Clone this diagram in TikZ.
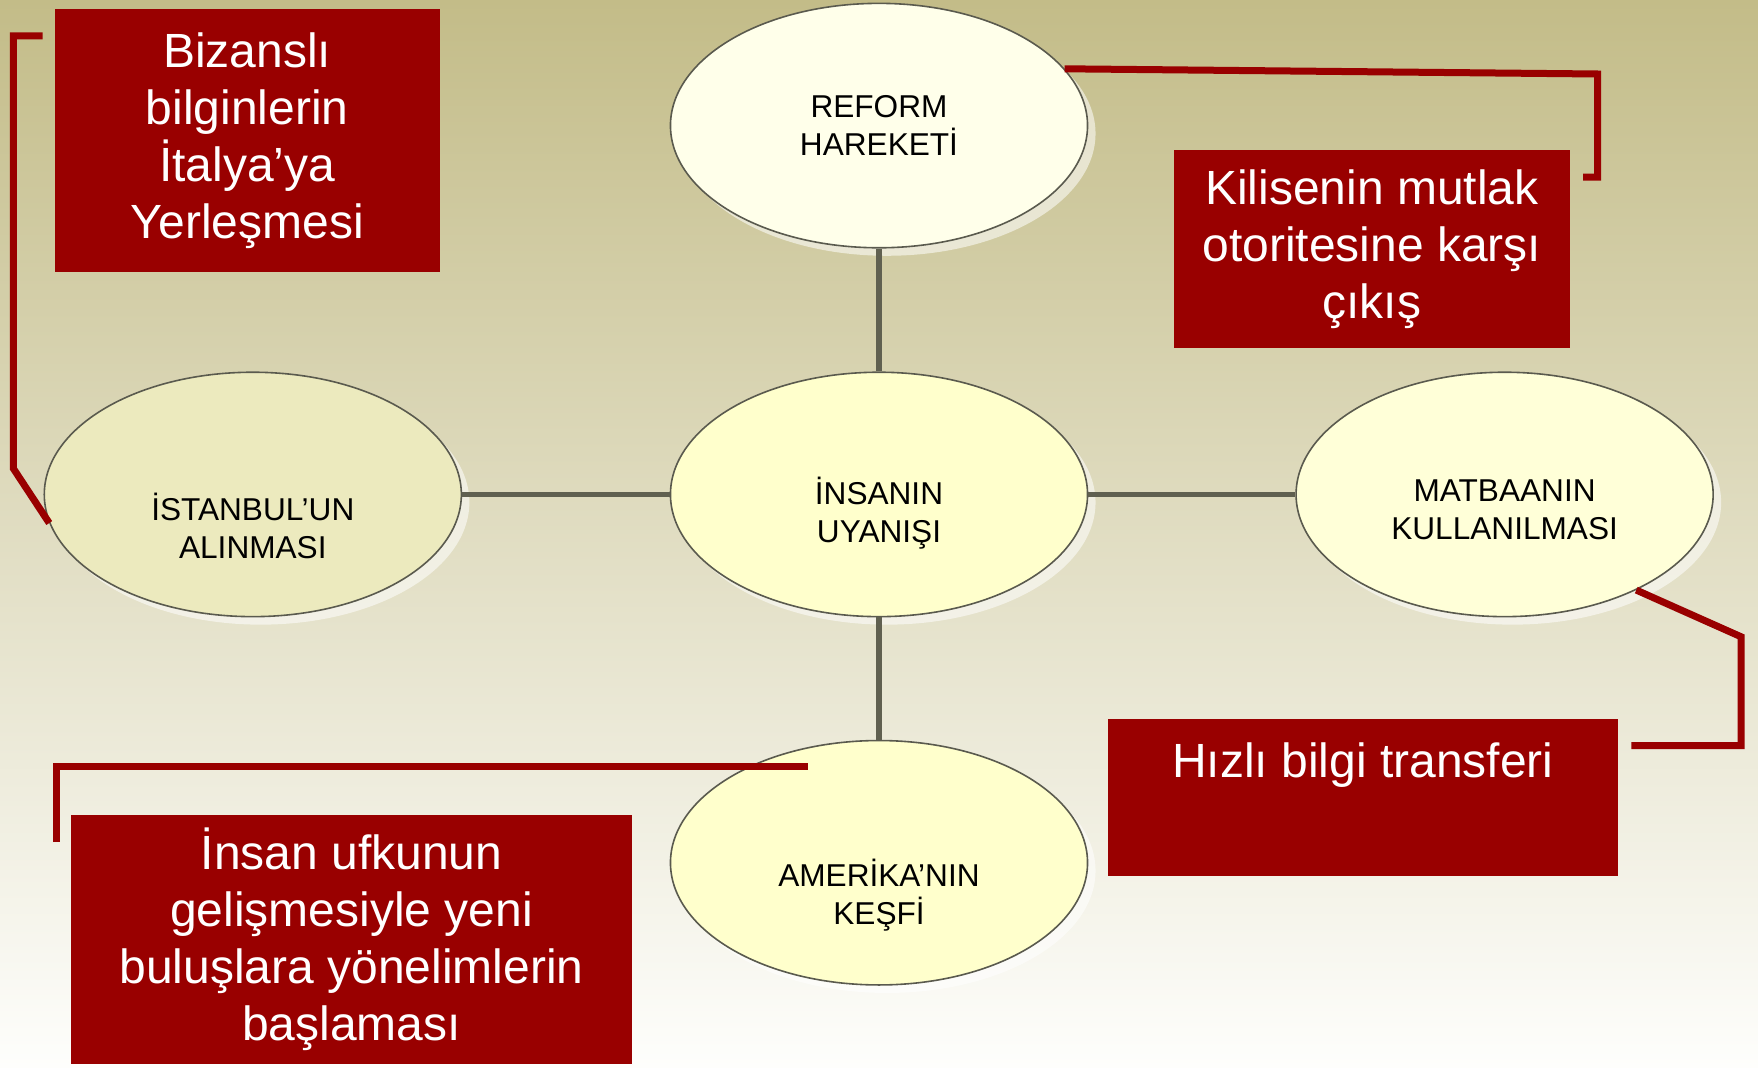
\documentclass[tikz,border=0pt]{standalone}
\usepackage{fontspec}
\setmainfont{Liberation Sans}
\usetikzlibrary{shapes.geometric,shadows,calc}
\definecolor{ren_red}{RGB}{153, 0, 0}
\definecolor{ren_line}{RGB}{96, 96, 80}
\definecolor{ren_edge}{RGB}{90, 90, 78}
\definecolor{ren_cream}{RGB}{255, 255, 204}
\definecolor{ren_pale}{RGB}{255, 255, 234}
\definecolor{ren_olive}{RGB}{236, 234, 190}
\definecolor{ren_light}{RGB}{255, 255, 216}
\definecolor{ren_top}{RGB}{195, 188, 136}
\definecolor{ren_bot}{RGB}{254, 254, 252}
\newcommand{\px}{0.5606pt}
\tikzstyle{bub}=[ellipse,draw=ren_edge,line width=0.8pt,inner sep=0pt,
  minimum width=372*\px,minimum height=218*\px,
  drop shadow={shadow xshift=4pt,shadow yshift=-4pt,fill=white,opacity=0.55}]
\tikzstyle{etxt}=[align=center,text=black,font=\fontsize{15.8}{19}\selectfont]
\tikzstyle{rbox}=[fill=ren_red,text=white,align=center,inner sep=0pt,
  font=\fontsize{24}{28.5}\selectfont]
\tikzstyle{link}=[draw=ren_line,line width=2.6pt]
\tikzstyle{brk}=[draw=ren_red,line width=3.5pt]
\tikzstyle{none}=[]

\begin{document}
\begin{tikzpicture}[x=\px,y=-\px]
    \useasboundingbox (0,0) rectangle (1568,952);
    \shade [top color=ren_top,bottom color=ren_bot] (0,0) rectangle (1568,952);

    % ellipses
    \node [style=bub,fill=ren_pale] (0) at (784,112) {};
    \node [style=bub,fill=ren_olive] (1) at (225.5,441) {};
    \node [style=bub,fill=ren_cream] (2) at (784,441) {};
    \node [style=bub,fill=ren_light] (3) at (1342,441) {};
    \node [style=bub,fill=ren_cream] (4) at (784,769.5) {};
    \draw [style=link] (2) to (0);
    \draw [style=link] (2) to (1);
    \draw [style=link] (2) to (3);
    \draw [style=link] (2) to (4);

    \node [style=etxt] (5) at (784,111.5) {REFORM\\HAREKETİ};
    \node [style=etxt] (6) at (225.5,469) {İSTANBUL’UN\\ALINMASI};
    \node [style=etxt] (7) at (784,458) {İNSANIN\\UYANIŞI};
    \node [style=etxt] (8) at (1342,454.5) {MATBAANIN\\KULLANILMASI};
    \node [style=etxt] (9) at (784,798) {AMERİKA’NIN\\KEŞFİ};

    % red boxes
    \node [style=rbox,minimum width=343*\px,minimum height=235*\px] (10) at (220.5,125.5)
        {Bizanslı\\bilginlerin\\İtalya’ya\\Yerleşmesi};
    \node [style=rbox,minimum width=353*\px,minimum height=176*\px] (11) at (1223.5,222)
        {Kilisenin mutlak\\otoritesine karşı\\çıkış};
    \node [style=rbox,minimum width=455*\px,text height=29.3pt,text depth=49.2pt] (12) at (1215.5,711)
        {Hızlı bilgi transferi};
    \node [style=rbox,minimum width=501*\px,minimum height=222*\px] (13) at (313.5,838)
        {İnsan ufkunun\\gelişmesiyle yeni\\buluşlara yönelimlerin\\başlaması};

    % brackets
    \node [style=none] (14) at (38,32) {};
    \node [style=none] (15) at (12,32) {};
    \node [style=none] (16) at (12,418) {};
    \node [style=none] (17) at (1425,66) {};
    \node [style=none] (18) at (1425,158) {};
    \node [style=none] (19) at (1412,158) {};
    \node [style=none] (20) at (1553,568) {};
    \node [style=none] (21) at (1553,665) {};
    \node [style=none] (22) at (1455,665) {};
    \node [style=none] (23) at (50,751) {};
    \node [style=none] (24) at (50,684) {};
    \node [style=none] (25) at (721,684) {};
    \draw [style=brk] (14.center) -- (15.center) -- (16.center) -- (1.188);
    \draw [style=brk] (0.17) -- (17.center) -- (18.center) -- (19.center);
    \draw [style=brk] (3.-36) -- (20.center) -- (21.center) -- (22.center);
    \draw [style=brk] (23.center) -- (24.center) -- (25.center);
\end{tikzpicture}
\end{document}
